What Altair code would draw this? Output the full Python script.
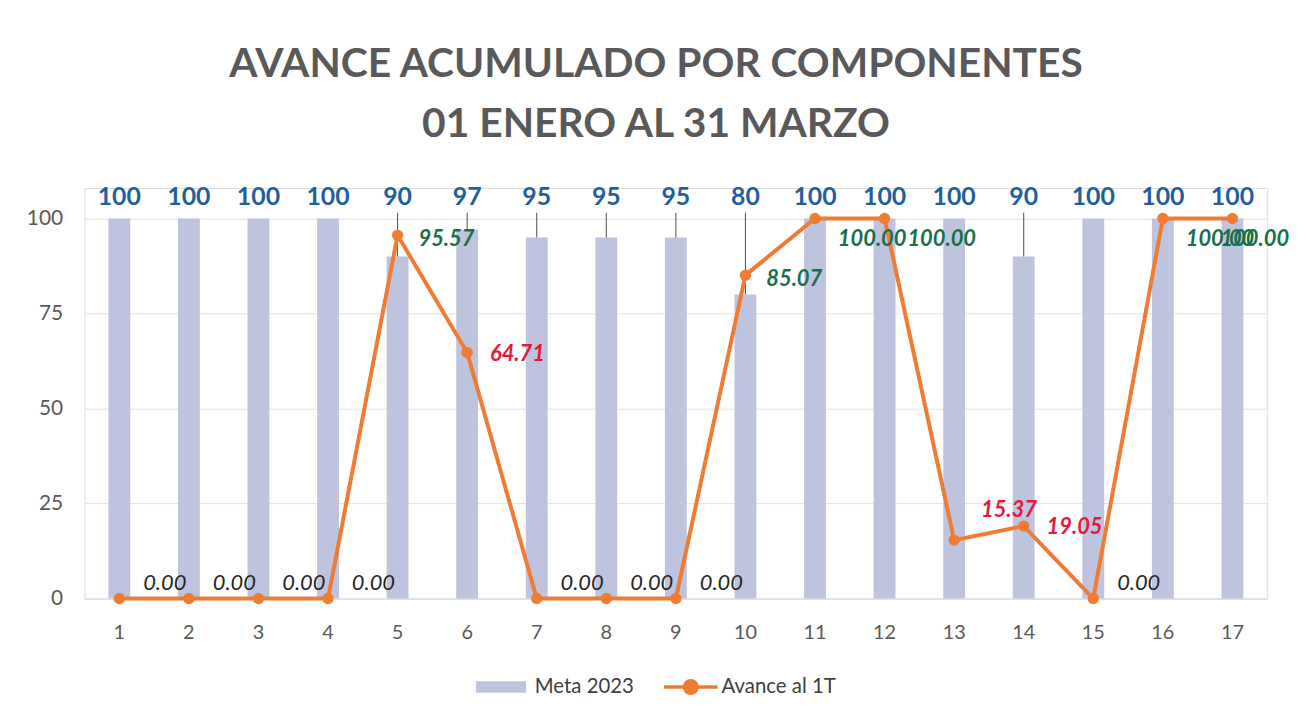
import altair as alt
import pandas as pd

componentes = [str(i) for i in range(1, 18)]
meta_2023 = [100, 100, 100, 100, 90, 97, 95, 95, 95, 80, 100, 100, 100, 90, 100, 100, 100]
avance_1t = [0, 0, 0, 0, 95.57, 64.71, 0, 0, 0, 85.07, 100, 100, 15.37, 19.05, 0, 100, 100]
titulo = ["AVANCE ACUMULADO POR COMPONENTES", "01 ENERO AL 31 MARZO"]

df = pd.DataFrame({
    "comp": componentes,
    "idx": list(range(1, 18)),
    "meta": meta_2023,
    "avance": avance_1t,
})
df["serie_meta"] = "Meta 2023"
df["serie_av"] = "Avance al 1T"

FONT = "Lato"
GRAY = "#595959"
BAR = "#BEC4DE"
ORANGE = "#F07B33"
BLUE = "#1F5FA0"
GREEN = "#17704A"
RED = "#E8173C"

x = alt.X(
    "comp:N", sort=componentes,
    scale=alt.Scale(paddingInner=0.686, paddingOuter=0.343),
    axis=alt.Axis(title=None, labelAngle=0, labelFontSize=20, labelColor=GRAY,
                  labelFont=FONT, labelPadding=24, ticks=False, domain=True,
                  domainColor="#dcdcdc", grid=False),
)
yscale = alt.Scale(domain=[0, 108], nice=False)
yaxis = alt.Axis(title=None, values=[0, 25, 50, 75, 100], labelFontSize=21,
                 labelColor=GRAY, labelFont=FONT, ticks=False, domain=False,
                 gridColor="#e2e2e2", labelPadding=22)

base = alt.Chart(df)

bars = base.mark_bar(opacity=1).encode(
    x=x,
    y=alt.Y("meta:Q", scale=yscale, axis=yaxis),
    color=alt.Color(
        "serie_meta:N", scale=alt.Scale(range=[BAR]),
        legend=alt.Legend(
            title=None, orient="none", legendX=402, legendY=485,
            symbolType="M-1.6,-0.36H1.6V0.36H-1.6Z", symbolSize=1000,
            symbolOpacity=1, labelFontSize=20.5, labelFont=FONT, labelColor="#404040",
            labelOffset=17,
        ),
    ),
)

leaders = base.transform_filter("datum.meta < 100").mark_rule(
    color="#4d4d4d", strokeWidth=1
).encode(x=x, y=alt.Y("meta:Q", scale=yscale), y2=alt.datum(101.5))

meta_labels = base.mark_text(
    font=FONT, fontSize=25, fontWeight="bold", color=BLUE, baseline="middle"
).encode(x=x, y=alt.datum(105.6), text=alt.Text("meta:Q"))

line = base.mark_line(strokeWidth=4).encode(
    x=x,
    y=alt.Y("avance:Q", scale=yscale),
    stroke=alt.Stroke(
        "serie_av:N", scale=alt.Scale(range=[ORANGE]),
        legend=alt.Legend(
            title=None, orient="none", legendX=593, legendY=485,
            symbolType="M-1.8,0H1.8M-0.42,0A0.42,0.42,0,1,1,0.42,0A0.42,0.42,0,1,1,-0.42,0",
            symbolSize=900, symbolStrokeWidth=3.5, symbolFillColor=ORANGE,
            symbolStrokeColor=ORANGE, symbolOpacity=1,
            labelFontSize=20.5, labelFont=FONT, labelColor="#404040", labelOffset=14,
        ),
    ),
)

points = base.mark_circle(size=130, color=ORANGE, opacity=1).encode(
    x=x, y=alt.Y("avance:Q", scale=yscale)
)


def etiquetas(filtro, color, dx, dy, peso="bold"):
    return base.transform_filter(filtro).mark_text(
        font=FONT, fontSize=22, fontWeight=peso, fontStyle="italic",
        color=color, align="left", baseline="middle", dx=dx, dy=dy,
    ).encode(x=x, y=alt.Y("avance:Q", scale=yscale),
             text=alt.Text("avance:Q", format=".2f"))


lab_cero = etiquetas("datum.avance == 0", "#262626", 24, -16, "normal")
lab_alto = etiquetas("datum.avance >= 85 && datum.avance < 100", GREEN, 21, 4)
lab_cien = etiquetas("datum.avance == 100 && datum.idx < 17", GREEN, 23, 21)
lab_ult = etiquetas("datum.avance == 100 && datum.idx == 17", GREEN, -12, 21)
lab_bajo = etiquetas("datum.avance > 0 && datum.avance < 85 && datum.idx != 13", RED, 23, 1)
lab_13 = etiquetas("datum.idx == 13", RED, 27, -30)

chart = alt.layer(
    bars, leaders, meta_labels, line, points,
    lab_cero, lab_alto, lab_cien, lab_ult, lab_bajo, lab_13,
).resolve_scale(color="independent", stroke="independent").properties(
    width=1190, height=413,
    padding={"left": 77, "top": 179, "right": 33, "bottom": 110},
    autosize=alt.AutoSizeParams(type="none"),
    title=alt.TitleParams(
        titulo, font=FONT, fontSize=41, fontWeight="bold",
        color=GRAY, lineHeight=60, anchor="middle", dx=-20, offset=40,
    ),
).configure_view(stroke=None).configure(background="white")

chart.save("out.html", embed_options={"renderer": "svg", "actions": False})
